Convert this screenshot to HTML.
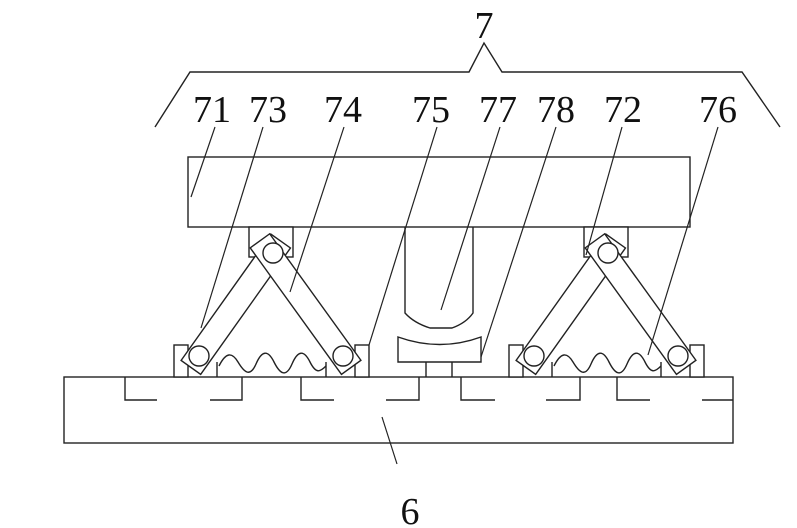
<!DOCTYPE html>
<html><head><style>
html,body{margin:0;padding:0;background:#fff;}
svg{display:block}
text{font-family:"Liberation Serif",serif;fill:#111}
</style></head><body>
<svg width="797" height="528" viewBox="0 0 797 528" xmlns="http://www.w3.org/2000/svg">
<g fill="none" stroke="#222" stroke-width="1.4">
<polyline points="155,127 190,72 469,72 484,43 502,72 742,72 780,127"/>
<rect x="188" y="157" width="502" height="70" fill="#fff"/>
<rect x="64" y="377" width="669" height="66" fill="#fff"/>
<polyline points="125,377 125,400 157,400"/>
<polyline points="210,400 242,400 242,377"/>
<polyline points="301,377 301,400 334,400"/>
<polyline points="386,400 419,400 419,377"/>
<polyline points="461,377 461,400 495,400"/>
<polyline points="546,400 580,400 580,377"/>
<polyline points="617,377 617,400 650,400"/>
<polyline points="702,400 733,400"/>
<path d="M405,227 V313 Q414,323 430,328 H452 Q466,323 473,313 V227" fill="none"/>
<path d="M398,337 Q440,352 481,337 V362 H398 Z" fill="#fff"/>
<line x1="426" y1="362" x2="426" y2="377"/>
<line x1="452" y1="362" x2="452" y2="377"/>
</g>
<defs>
<g id="asm" fill="#fff" stroke="#222" stroke-width="1.4">
<rect x="249" y="227" width="44" height="30"/>
<rect x="174" y="345" width="14" height="32"/>
<rect x="355" y="345" width="14" height="32"/>
<path d="M217,377 V362 M326,377 V362" fill="none"/>
<path d="M219,366 C226,352 232,352 238,362 S250,378 256,364 S268,350 274,362 S286,378 292,364 S304,350 310,362 S320,372 326,366" fill="none"/>
<g transform="translate(199,356) rotate(-54.6)">
<rect x="-14" y="-12" width="155" height="24"/>
</g>
<g transform="translate(343,356) rotate(-125.8)">
<rect x="-14" y="-12" width="156" height="24"/>
</g>
<circle cx="199" cy="356" r="10"/>
<circle cx="343" cy="356" r="10"/>
<circle cx="273" cy="253" r="10"/>
</g>
</defs>
<use href="#asm"/>
<use href="#asm" transform="translate(335,0)"/>
<g stroke="#222" stroke-width="1.2" fill="none">
<line x1="215" y1="127" x2="191" y2="197"/>
<line x1="263" y1="127" x2="201" y2="328"/>
<line x1="344" y1="127" x2="290" y2="292"/>
<line x1="437" y1="127" x2="369" y2="345"/>
<line x1="500" y1="127" x2="441" y2="310"/>
<line x1="556" y1="127" x2="481" y2="357"/>
<line x1="622" y1="127" x2="586" y2="255"/>
<line x1="718" y1="127" x2="648" y2="355"/>
<line x1="382" y1="417" x2="397" y2="464"/>
</g>
<g font-size="38">
<text x="484" y="38" text-anchor="middle">7</text>
<text x="193" y="122">71</text>
<text x="249" y="122">73</text>
<text x="324" y="122">74</text>
<text x="412" y="122">75</text>
<text x="479" y="122">77</text>
<text x="537" y="122">78</text>
<text x="604" y="122">72</text>
<text x="699" y="122">76</text>
<text x="410" y="524" text-anchor="middle">6</text>
</g>
</svg>
</body></html>
